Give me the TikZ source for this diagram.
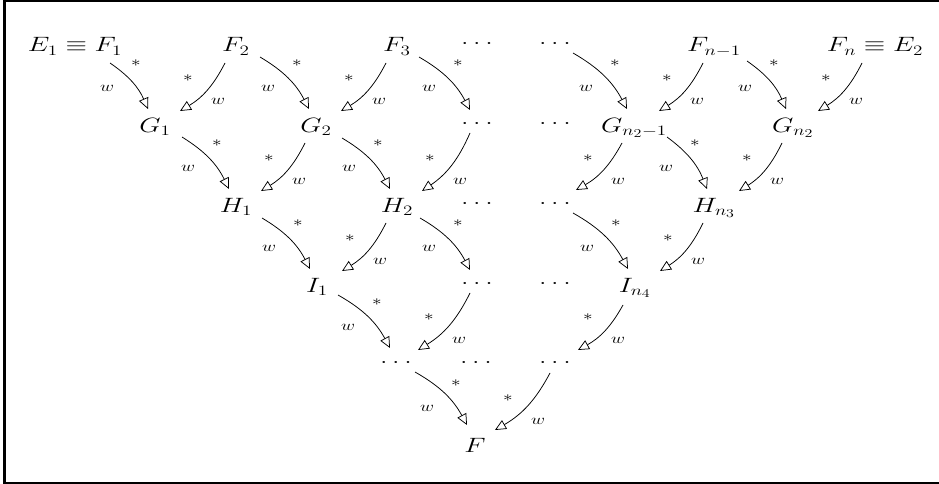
\documentclass[tikz,border=0pt]{standalone}
\usepackage{graphicx}
\usetikzlibrary{arrows.meta}
\newcommand\mm[1]{\scalebox{1.33}[1]{$#1$}}
\newcommand\ml[1]{\scalebox{1.33}[1]{$\scriptstyle #1$}}
% down-right arrow: #1 from, #2 to, #3 start shift, #4 end shift
\newcommand\arDR[4]{%
  \draw[arr] ([shift={#3}]#1.center) to[bend left=16] ([shift={#4}]#2.center);
  \node[lb] at ([shift={(-19,-60)}]#2.center) {\ml{*}};
  \node[lb] at ([shift={(-48,-35)}]#2.center) {\ml{w}};}
% down-left arrow
\newcommand\arDL[4]{%
  \draw[arr] ([shift={#3}]#1.center) to[bend left=16] ([shift={#4}]#2.center);
  \node[lb] at ([shift={(33,-45)}]#2.center) {\ml{*}};
  \node[lb] at ([shift={(63,-22)}]#2.center) {\ml{w}};}
\begin{document}
\begin{tikzpicture}[x=1pt,y=-1pt,font=\huge,
  nd/.style={inner sep=0pt, text height=18pt, text depth=0pt},
  dt/.style={inner sep=0pt, text height=2.2pt, text depth=0pt},
  lb/.style={inner sep=0pt},
  arr/.style={line width=0.75pt,-{Triangle[open,length=11pt,width=10pt,line width=0.75pt]}},
  frame/.style={line width=2.3pt}]
\useasboundingbox (0,0) rectangle (939,484);
\draw[frame] (939,1.3) -- (4.5,1.3) -- (4.5,482.8) -- (939,482.8);
% row 0
\node[nd] (F1)  at (75,43)  {\mm{E_1\equiv F_1}};
\node[nd] (F2)  at (236,43) {\mm{F_2}};
\node[nd] (F3)  at (397,43) {\mm{F_3}};
\node[dt] (d01) at (477,43) {\mm{\ldots}};
\node[dt] (d02) at (555,43) {\mm{\ldots}};
\node[nd] (Fn1) at (714,43) {\mm{F_{n-1}}};
\node[nd] (Fn)  at (875,43) {\mm{F_n\equiv E_2}};
% row 1
\node[nd] (G1)  at (155,123) {\mm{G_1}};
\node[nd] (G2)  at (316,123) {\mm{G_2}};
\node[dt] (d11) at (477,123) {\mm{\ldots}};
\node[dt] (d12) at (555,123) {\mm{\ldots}};
\node[nd] (Gm)  at (634,123) {\mm{G_{n_2-1}}};
\node[nd] (Gn)  at (793,123) {\mm{G_{n_2}}};
% row 2
\node[nd] (H1)  at (236,203) {\mm{H_1}};
\node[nd] (H2)  at (397,203) {\mm{H_2}};
\node[dt] (d21) at (477,203) {\mm{\ldots}};
\node[dt] (d22) at (555,203) {\mm{\ldots}};
\node[nd] (Hn)  at (714,203) {\mm{H_{n_3}}};
% row 3
\node[nd] (I1)  at (317,283) {\mm{I_1}};
\node[dt] (d31) at (477,283) {\mm{\ldots}};
\node[dt] (d32) at (555,283) {\mm{\ldots}};
\node[nd] (In)  at (635,283) {\mm{I_{n_4}}};
% row 4
\node[dt] (d41) at (396,362) {\mm{\ldots}};
\node[dt] (d42) at (476,362) {\mm{\ldots}};
\node[dt] (d43) at (555,362) {\mm{\ldots}};
% row 5
\node[nd] (F)   at (475,443) {\mm{F}};
% arrows
\arDR{F1}{G1}{(35,20)}{(-7,-14)}
\arDL{F2}{G1}{(-11,20)}{(25,-12)}
\arDR{F2}{G2}{(24,14)}{(-7,-14)}
\arDL{F3}{G2}{(-11,20)}{(25,-12)}
\arDR{F3}{d11}{(22,14)}{(-7,-13)}
\arDR{d02}{Gm}{(18,10)}{(-7,-14)}
\arDL{Fn1}{Gm}{(-11,20)}{(25,-12)}
\arDR{Fn1}{Gn}{(33,18)}{(-7,-14)}
\arDL{Fn}{Gn}{(-13,20)}{(25,-12)}
\arDR{G1}{H1}{(27,14)}{(-7,-14)}
\arDL{G2}{H1}{(-11,20)}{(25,-12)}
\arDR{G2}{H2}{(26,15)}{(-7,-14)}
\arDL{d11}{H2}{(-7,10)}{(25,-12)}
\arDL{Gm}{d22}{(-12,20)}{(21,-13)}
\arDR{Gm}{Hn}{(33,14)}{(-7,-14)}
\arDL{Gn}{Hn}{(-11,20)}{(25,-12)}
\arDR{H1}{I1}{(26,15)}{(-7,-14)}
\arDL{H2}{I1}{(-11,20)}{(25,-12)}
\arDR{H2}{d31}{(23,15)}{(-7,-13)}
\arDR{d22}{In}{(18,10)}{(-7,-14)}
\arDL{Hn}{In}{(-11,20)}{(25,-12)}
\arDR{I1}{d41}{(21,12)}{(-6,-14)}
\arDL{d31}{d41}{(-7,10)}{(22,-12)}
\arDL{In}{d43}{(-12,22)}{(23,-12)}
\arDR{d41}{F}{(19,10)}{(-8,-18)}
\arDL{d43}{F}{(-5,11)}{(20,-13)}
\end{tikzpicture}
\end{document}
